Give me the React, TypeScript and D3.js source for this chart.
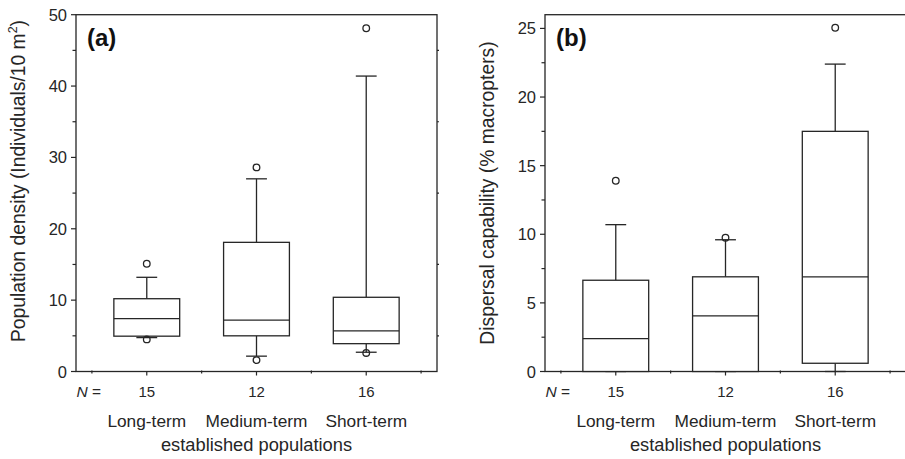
import React, { useEffect, useRef } from 'react';
import * as d3 from 'd3';

const groups = ['Long-term', 'Medium-term', 'Short-term'];
const sampleSizes = [15, 12, 16];

// panel (a): population density
const densityLow = [4.75, 2.15, 2.7];
const densityQ1 = [4.95, 5.0, 3.9];
const densityMedian = [7.4, 7.2, 5.7];
const densityQ3 = [10.2, 18.1, 10.4];
const densityHigh = [13.2, 27.0, 41.4];
const densityOutliers = [[15.1, 4.5], [28.6, 1.6], [48.1, 2.6]];
const densityTicks = [0, 10, 20, 30, 40, 50];

// panel (b): dispersal capability
const dispersalLow = [0, 0, 0];
const dispersalQ1 = [0, 0, 0.6];
const dispersalMedian = [2.4, 4.05, 6.9];
const dispersalQ3 = [6.65, 6.9, 17.5];
const dispersalHigh = [10.7, 9.6, 22.4];
const dispersalOutliers = [[13.9], [9.75], [25.05]];
const dispersalTicks = [0, 5, 10, 15, 20, 25];

const FONT = '"Liberation Sans", Arial, Helvetica, sans-serif';
const INK = '#262626';

type PanelProps = {
  tag: string;
  left: number;
  yMax: number;
  ticks: number[];
  minorStep: number;
  low: number[];
  q1: number[];
  median: number[];
  q3: number[];
  high: number[];
  outliers: number[][];
  label: (t: any) => void;
  labelY: number;
};

const Panel = (p: PanelProps) => {
  const ref = useRef<SVGGElement>(null);

  useEffect(() => {
    const g = d3.select(ref.current);
    g.selectAll('*').remove();

    const top = 14.7;
    const bottom = 371.5;
    const width = 361;
    const x = d3.scaleLinear().domain([0.355, 3.645]).range([p.left, p.left + width]);
    const y = d3.scaleLinear().domain([0, p.yMax]).range([bottom, top]);
    const boxW = x(0.3) - x(0);
    const capW = x(0.095) - x(0);

    // frame
    g.append('rect')
      .attr('x', p.left).attr('y', top)
      .attr('width', width).attr('height', bottom - top)
      .attr('fill', 'none').attr('stroke', INK).attr('stroke-width', 1.3);

    // left axis
    const majors = p.ticks;
    const minors = d3.range(p.minorStep, p.yMax, p.minorStep * 2);
    g.selectAll('.ymaj').data(majors).enter().append('line')
      .attr('x1', p.left - 5).attr('x2', p.left)
      .attr('y1', (d) => y(d)).attr('y2', (d) => y(d))
      .attr('stroke', INK).attr('stroke-width', 1.2);
    g.selectAll('.ymin').data(minors).enter().append('line')
      .attr('x1', p.left - 3.5).attr('x2', p.left)
      .attr('y1', (d) => y(d)).attr('y2', (d) => y(d))
      .attr('stroke', INK).attr('stroke-width', 1.2);
    g.selectAll('.yrmin').data(minors).enter().append('line')
      .attr('x1', p.left + width).attr('x2', p.left + width + 2)
      .attr('y1', (d) => y(d)).attr('y2', (d) => y(d))
      .attr('stroke', INK).attr('stroke-width', 1.2);
    g.selectAll('.ylab').data(majors).enter().append('text')
      .attr('x', p.left - 9).attr('y', (d) => y(d) + 6)
      .attr('text-anchor', 'end')
      .attr('font-size', 16.5).attr('fill', INK)
      .text((d) => d);

    // bottom axis ticks
    g.selectAll('.xmaj').data([1, 2, 3]).enter().append('line')
      .attr('x1', (d) => x(d)).attr('x2', (d) => x(d))
      .attr('y1', bottom).attr('y2', bottom + 4)
      .attr('stroke', INK).attr('stroke-width', 1.2);
    g.selectAll('.xmin').data([0.5, 1.5, 2.5, 3.5]).enter().append('line')
      .attr('x1', (d) => x(d)).attr('x2', (d) => x(d))
      .attr('y1', bottom - 1).attr('y2', bottom + 2)
      .attr('stroke', INK).attr('stroke-width', 1.2);

    // boxes
    groups.forEach((name, i) => {
      const cx = x(i + 1);
      const box = g.append('g').attr('stroke', INK).attr('stroke-width', 1.3).attr('fill', 'none');
      box.append('line').attr('x1', cx).attr('x2', cx).attr('y1', y(p.q3[i])).attr('y2', y(p.high[i]));
      box.append('line').attr('x1', cx - capW).attr('x2', cx + capW).attr('y1', y(p.high[i])).attr('y2', y(p.high[i]));
      box.append('line').attr('x1', cx).attr('x2', cx).attr('y1', y(p.q1[i])).attr('y2', y(p.low[i]));
      box.append('line').attr('x1', cx - capW).attr('x2', cx + capW).attr('y1', y(p.low[i])).attr('y2', y(p.low[i]));
      box.append('rect')
        .attr('x', cx - boxW).attr('width', boxW * 2)
        .attr('y', y(p.q3[i])).attr('height', y(p.q1[i]) - y(p.q3[i]))
        .attr('fill', '#fff');
      box.append('line').attr('x1', cx - boxW).attr('x2', cx + boxW).attr('y1', y(p.median[i])).attr('y2', y(p.median[i]));
      box.selectAll('circle').data(p.outliers[i]).enter().append('circle')
        .attr('cx', cx).attr('cy', (d) => y(d)).attr('r', 3.3).attr('fill', 'none');

      g.append('text').attr('x', cx).attr('y', 397).attr('text-anchor', 'middle')
        .attr('font-size', 15).attr('fill', INK).text(sampleSizes[i]);
      g.append('text').attr('x', cx).attr('y', 427).attr('text-anchor', 'middle')
        .attr('font-size', 17.3).attr('fill', INK).text(name);
    });

    const n = g.append('text').attr('x', p.left + 0.5).attr('y', 397)
      .attr('font-size', 15.5).attr('fill', INK);
    n.append('tspan').attr('font-style', 'italic').text('N');
    n.append('tspan').text(' =');

    g.append('text').attr('x', x(2)).attr('y', 451).attr('text-anchor', 'middle')
      .attr('font-size', 18.3).attr('fill', INK).text('established populations');

    g.append('text').attr('x', p.left + 11).attr('y', 46)
      .attr('font-size', 24).attr('font-weight', 'bold').attr('fill', '#111').text(p.tag);

    const yl = g.append('text')
      .attr('transform', `translate(${p.left - 51},${p.labelY}) rotate(-90)`)
      .attr('text-anchor', 'middle').attr('font-size', 19.3).attr('fill', INK);
    p.label(yl);
  }, [p]);

  return <g ref={ref} />;
};

export default function App() {
  return (
    <div style={{ position: 'absolute', left: 0, top: 0 }}>
      <svg width={905} height={459} style={{ display: 'block', background: '#fff', fontFamily: FONT }}>
        <Panel
          tag="(a)" left={76} yMax={50} ticks={densityTicks} minorStep={5}
          low={densityLow} q1={densityQ1} median={densityMedian} q3={densityQ3}
          high={densityHigh} outliers={densityOutliers} labelY={181}
          label={(t) => {
            t.append('tspan').text('Population density (Individuals/10 m');
            t.append('tspan').attr('font-size', 12.5).attr('dy', -8).text('2');
            t.append('tspan').attr('dy', 8).text(')');
          }}
        />
        <Panel
          tag="(b)" left={545} yMax={26} ticks={dispersalTicks} minorStep={2.5}
          low={dispersalLow} q1={dispersalQ1} median={dispersalMedian} q3={dispersalQ3}
          high={dispersalHigh} outliers={dispersalOutliers} labelY={193}
          label={(t) => {
            t.text('Dispersal capability (% macropters)');
          }}
        />
      </svg>
    </div>
  );
}
